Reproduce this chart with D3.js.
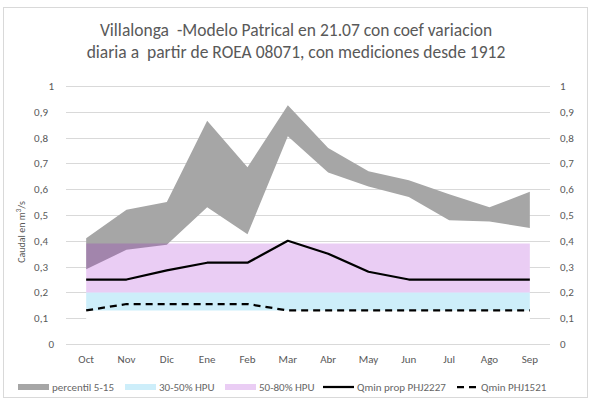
<!DOCTYPE html>
<html>
<head>
<meta charset="utf-8">
<script src="https://d3js.org/d3.v7.min.js"></script>
<style>
  html, body { margin: 0; padding: 0; background: #fff; overflow: hidden; }
  text { font-family: Carlito, Lato, "Open Sans", sans-serif; fill: #595959; }
</style>
</head>
<body>
<svg id="chart" width="591" height="404"></svg>
<script>
const months = ['Oct', 'Nov', 'Dic', 'Ene', 'Feb', 'Mar', 'Abr', 'May', 'Jun', 'Jul', 'Ago', 'Sep'];
// percentil 5-15 band
const p5 = [0.29, 0.365, 0.385, 0.53, 0.425, 0.805, 0.665, 0.61, 0.57, 0.48, 0.475, 0.45];
const p15 = [0.41, 0.52, 0.55, 0.865, 0.685, 0.925, 0.76, 0.67, 0.635, 0.58, 0.53, 0.59];
// HPU bands (stacked)
const hpu30 = [0.13, 0.13, 0.13, 0.13, 0.13, 0.13, 0.13, 0.13, 0.13, 0.13, 0.13, 0.13];
const hpu50 = [0.20, 0.20, 0.20, 0.20, 0.20, 0.20, 0.20, 0.20, 0.20, 0.20, 0.20, 0.20];
const hpu80 = [0.39, 0.39, 0.39, 0.39, 0.39, 0.39, 0.39, 0.39, 0.39, 0.39, 0.39, 0.39];
const qminProp = [0.25, 0.25, 0.285, 0.315, 0.315, 0.40, 0.35, 0.28, 0.25, 0.25, 0.25, 0.25];
const qmin1521 = [0.13, 0.155, 0.155, 0.155, 0.155, 0.13, 0.13, 0.13, 0.13, 0.13, 0.13, 0.13];
const yTicks = [0, 0.1, 0.2, 0.3, 0.4, 0.5, 0.6, 0.7, 0.8, 0.9, 1];

const svg = d3.select('#chart');
const plotL = 66, plotR = 550, plotT = 86, plotB = 344;

svg.append('rect')
  .attr('x', 3.5).attr('y', 7.5).attr('width', 584).attr('height', 390)
  .attr('fill', '#fff').attr('stroke', '#d9d9d9');

const x = d3.scaleBand().domain(months).range([plotL, plotR]);
const cx = m => x(m) + x.bandwidth() / 2;
const y = d3.scaleLinear().domain([0, 1]).range([plotB, plotT]);
const fmt = d => String(d).replace('.', ',');

// gridlines
svg.append('g').selectAll('line').data(yTicks).join('line')
  .attr('x1', plotL).attr('x2', plotR)
  .attr('y1', d => Math.round(y(d)) + 0.5).attr('y2', d => Math.round(y(d)) + 0.5)
  .attr('stroke', '#d9d9d9').attr('stroke-width', 1);

const idx = d3.range(months.length);
const area = (lo, hi) => d3.area()
  .x(i => cx(months[i]))
  .y0(i => y(lo[i]))
  .y1(i => y(hi[i]));
const zero = months.map(() => 0);

// white base of the stacked areas hides the gridlines
svg.append('path').datum(idx).attr('d', area(zero, hpu80)).attr('fill', '#fff');
// percentil band
svg.append('path').datum(idx).attr('d', area(p5, p15)).attr('fill', '#a6a6a6');
// HPU bands (semi transparent)
svg.append('path').datum(idx).attr('d', area(hpu30, hpu50)).attr('fill', 'rgba(5,170,230,0.2)');
svg.append('path').datum(idx).attr('d', area(hpu50, hpu80)).attr('fill', 'rgba(150,5,200,0.2)');

const line = vals => d3.line().x(i => cx(months[i])).y(i => y(vals[i]));
svg.append('path').datum(idx).attr('d', line(qminProp))
  .attr('fill', 'none').attr('stroke', '#000').attr('stroke-width', 2.25).attr('stroke-linejoin', 'round');
svg.append('path').datum(idx).attr('d', line(qmin1521))
  .attr('fill', 'none').attr('stroke', '#000').attr('stroke-width', 2.25).attr('stroke-dasharray', '7,5');

// axes
const yl = svg.append('g').attr('transform', `translate(${plotL - 14},0)`)
  .call(d3.axisLeft(y).tickValues(yTicks).tickSize(0).tickFormat(fmt));
const yr = svg.append('g').attr('transform', `translate(${plotR + 7},0)`)
  .call(d3.axisRight(y).tickValues(yTicks).tickSize(0).tickFormat(fmt));
const xa = svg.append('g').attr('transform', `translate(0,${plotB + 8})`)
  .call(d3.axisBottom(x).tickSize(0));
[yl, yr, xa].forEach(g => {
  g.select('.domain').remove();
  g.selectAll('text').attr('font-size', 11).attr('fill', '#666')
    .style('font-family', 'Carlito, Lato, "Open Sans", sans-serif');
});
yl.selectAll('text').attr('x', d => (d === 0 || d === 1) ? 2 : -4);

svg.append('g')
  .attr('transform', 'translate(25,232) rotate(-90)')
  .style('opacity', 0.999)
  .append('text')
  .attr('text-anchor', 'middle').attr('font-size', 10)
  .style('fill', '#595959')
  .html('Caudal en m<tspan baseline-shift="super" font-size="7">3</tspan>/s');

// title
const title = svg.append('text').attr('text-anchor', 'middle').attr('font-size', 17.5)
  .style('fill', '#595959');
title.append('tspan').attr('x', 296).attr('y', 36).text('Villalonga  -Modelo Patrical en 21.07 con coef variacion');
title.append('tspan').attr('x', 296).attr('y', 58).text('diaria a  partir de ROEA 08071, con mediciones desde 1912');
title.selectAll('tspan').style('white-space', 'pre');

// legend
const legend = [
  {label: 'percentil 5-15', type: 'rect', color: '#a6a6a6', x: 18},
  {label: '30-50% HPU', type: 'rect', color: '#cdeefa', x: 125},
  {label: '50-80% HPU', type: 'rect', color: '#eacdf4', x: 225},
  {label: 'Qmin prop PHJ2227', type: 'line', x: 323},
  {label: 'Qmin PHJ1521', type: 'dash', x: 456}
];
const ly = 387;
const lg = svg.append('g').selectAll('g').data(legend).join('g')
  .attr('transform', d => `translate(${d.x},${ly})`);
lg.filter(d => d.type === 'rect').append('rect')
  .attr('x', 0).attr('y', -3).attr('width', 31).attr('height', 6).attr('fill', d => d.color);
lg.filter(d => d.type !== 'rect').append('line')
  .attr('x1', d => d.type === 'dash' ? 1 : 0).attr('x2', d => d.type === 'dash' ? 21 : 31)
  .attr('y1', 0).attr('y2', 0).attr('stroke', '#000').attr('stroke-width', 2.25)
  .attr('stroke-dasharray', d => d.type === 'dash' ? '7,5' : null);
lg.append('text')
  .attr('x', d => d.type === 'dash' ? 25 : 34).attr('y', 4)
  .attr('font-size', 11).style('fill', '#666').text(d => d.label);
</script>
</body>
</html>
